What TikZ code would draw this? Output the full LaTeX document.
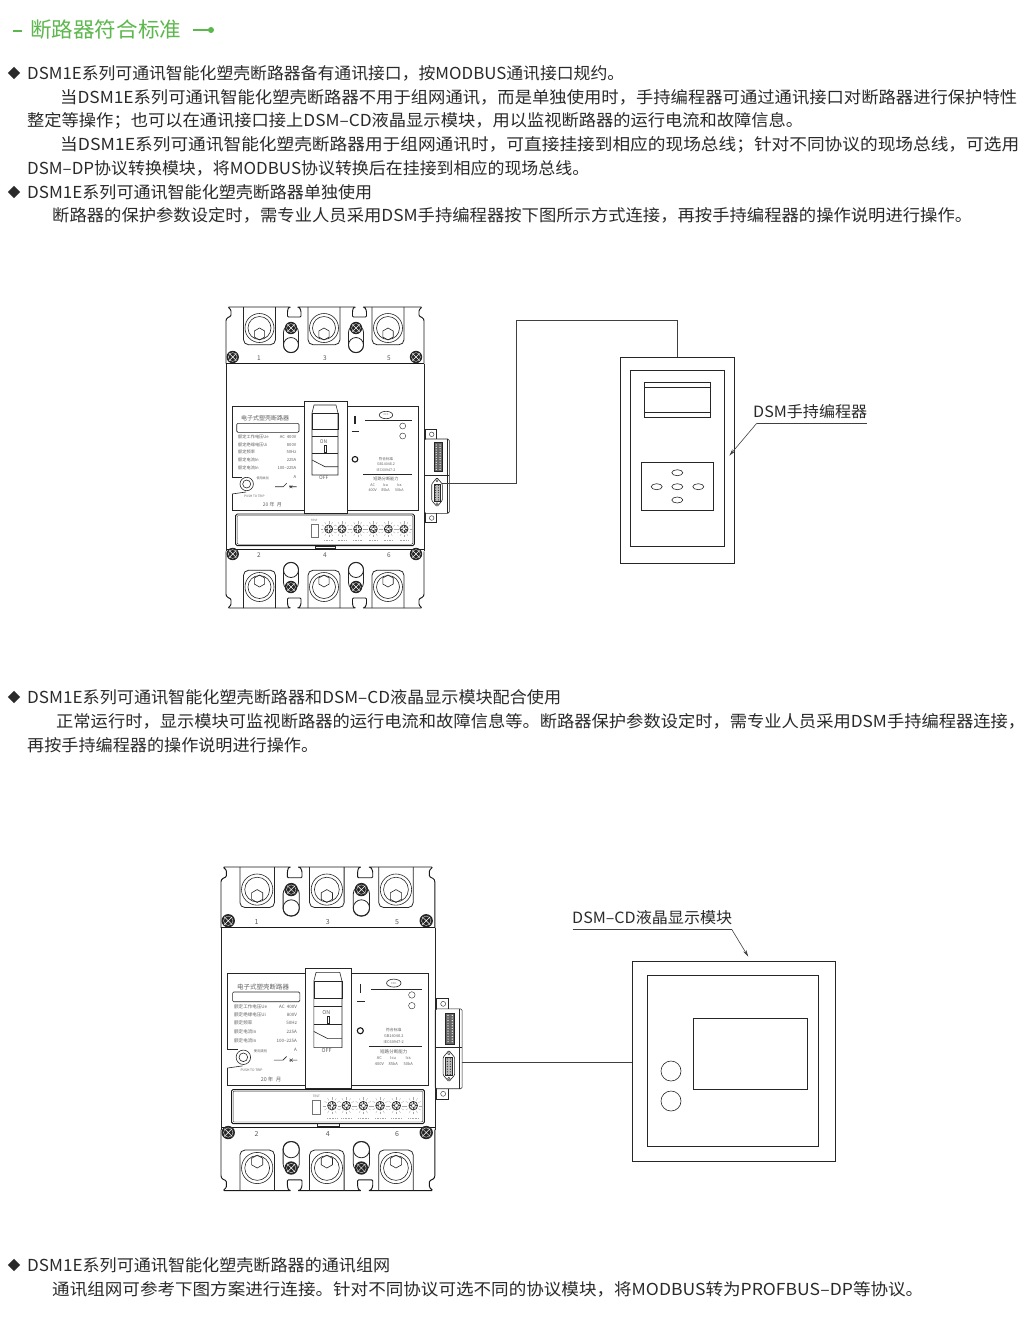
\documentclass[tikz,border=0pt]{standalone}
\usepackage{fontspec}
\usepackage{graphicx}
\usetikzlibrary{arrows.meta,shapes.geometric}
\newfontfamily\cnfont{Noto Sans CJK SC}
\definecolor{headgreen}{HTML}{5CB84C}
\definecolor{inkgray}{HTML}{2A2A2A}

\tikzset{
	bodytext/.style={anchor=base west, yshift=-6.8pt, inner sep=0, text=inkgray, font=\cnfont\fontsize{16.5}{18}\selectfont},
	headtext/.style={anchor=base west, yshift=-7.4pt, inner sep=0, text=headgreen, font=\cnfont\fontsize{21}{23}\selectfont},
	bullet/.style={diamond, fill=inkgray, minimum size=12.5, inner sep=0},
	part/.style={draw=black!85, line width=0.6},
	outline/.style={draw=black!90, line width=0.95},
	wire/.style={draw=black!75, line width=0.6},
	brktext/.style={inner sep=0, text=black!62, font=\cnfont\fontsize{4.2}{5}\selectfont},
	smalltext/.style={inner sep=0, text=black!62, font=\cnfont\fontsize{3.1}{4}\selectfont},
	numtext/.style={inner sep=0, text=black!65, font=\cnfont\fontsize{6.5}{8}\selectfont},
}

% fit a text line to a given width
\newcommand{\fitw}[2]{\resizebox{#1pt}{\height}{#2}}

% dark screw with a white cross
\newcommand{\crossscrew}[2]{
	\fill[black!85] (#1,#2) circle (6.2);
	\draw[white, line width=0.45] (#1-3.6,#2-3.6)--(#1+3.6,#2+3.6) (#1-3.6,#2+3.6)--(#1+3.6,#2-3.6);
	\draw[white, line width=0.3] (#1,#2) circle (4.4);
}

% one terminal row, top side; bottom side comes from a mirrored scope
\newcommand{\termblock}{
	\draw[outline, rounded corners=1] (0,56.7)--(0,13)--(1,11)--(5,9)--(5,3)--(2,0)--(65,0)--(62.5,0.5)--(61.5,4)--(61.5,10)--(75,10)--(75,4)--(73.5,0.5)--(71,0)--(130,0)--(127.5,0.5)--(126.5,4)--(126.5,10)--(140.5,10)--(140.5,4)--(139,0.5)--(136.5,0)--(196,0)--(193,3)--(193,9)--(197,11)--(198,13)--(198,56.7);
	\foreach \c in {33.5,98,162}{
		\draw[part, line width=0.8, rounded corners=5] (\c-16,0)--(\c-16,37.7)--(\c+16,37.7)--(\c+16,0);
		\draw[part] (\c,21) circle (14.5);
		\draw[part] (\c,21) circle (11.5);
		\draw[part] (\c,21) ++(30:6)--++(90:6)--++(150:6)--++(210:6)--++(270:6)--++(330:6)--cycle;
	}
	\foreach \c in {65,130}{
		\draw[part, line width=0.8, rounded corners=7.4] (\c-7.5,18) rectangle (\c+7.5,45.7);
		\draw[part, line width=0.8] (\c,38) circle (7.5);
		\crossscrew{\c}{21}
	}
}

\newcommand{\brkbody}[1]{
	\termblock
	\begin{scope}[shift={(0,301)},yscale=-1]
		\termblock
	\end{scope}
	\draw[outline] (0,56.7)--(198,56.7);
	\draw[outline] (0,242)--(198,242);
	\draw[part] (0,56.7)--(0,244.3);
	\draw[part] (198,56.7)--(198,244.3);
	% corner screws and numbers
	\crossscrew{6.7}{50}
	\crossscrew{190}{50}
	\crossscrew{6.7}{247}
	\crossscrew{190}{247}
	\foreach \c/\t/\b in {33/1/2,99/3/4,163/5/6}{
		\node[numtext] (#1num\t) at (\c,50.8) {\t};
		\node[numtext] (#1num\b) at (\c,248.5) {\b};
	}
	% label panel
	\draw[part] (78,99)--(6,99)--(6,170)--(16,170);
	\draw[part] (6,187)--(20,185);
	\draw[part] (6,187)--(6,203)--(78,203);
	\draw[part] (121,99)--(192,99)--(192,203)--(121,203);
	\draw[part, fill=white] (20.7,177) circle (6.7);
	\draw[part] (20.7,177) circle (4);
	\node[brktext, font=\cnfont\fontsize{6}{7}\selectfont] (#1title) at (39,111.3) {电子式塑壳断路器};
	\draw[part, rounded corners=1.2] (10.7,116.3) rectangle (73,125.3);
	\foreach \n/\y/\a/\b in {1/129.7/额定工作电压Ue/AC\ \ 400V,2/137.7/额定绝缘电压Ui/800V,3/145.3/额定频率/50Hz,4/153.3/额定电流In/225A,5/161.3/额定电流In/100–225A}{
		\node[brktext, anchor=west] (#1rowa\n) at (12,\y) {\a};
		\node[brktext, anchor=east] (#1rowb\n) at (70.5,\y) {\b};
	}
	\node[brktext, anchor=east] (#1unit) at (70.5,169.7) {A};
	\node[smalltext] (#1usecat) at (36.7,171) {使用类别};
	\node[smalltext] (#1push) at (28.3,189) {PUSH TO TRIP};
	\node[brktext, font=\cnfont\fontsize{5}{6}\selectfont] (#1date) at (46.3,197.3) {20\ 年\ \ 月};
	\draw[part] (49,179.7)--(57.3,179.7)--(60.7,176.3) (63,179.7)--(70.7,179.7);
	\draw[part, line width=0.4] (63.7,178.2)--(66.3,181.2) (63.7,181.2)--(66.3,178.2);
	% handle
	\draw[part, fill=white] (78,94) rectangle (121,206);
	\draw[part] (88,98)--(110,98)--(112,106)--(112,168)--(86,168)--(86,106)--cycle;
	\draw[part] (86,106) rectangle (112,122);
	\draw[part] (86,129.5)--(112,129.5);
	\draw[part] (86,146)--(112,146);
	\draw[part] (86,153)--(99,159.7)--(112,159.7);
	\node[brktext, font=\cnfont\fontsize{5}{6}\selectfont] (#1on) at (97.5,135) {ON};
	\draw[part] (98,138.5) rectangle (100.5,145.5);
	\node[brktext, font=\cnfont\fontsize{5}{6}\selectfont] (#1off) at (97.7,170.5) {OFF};
	% right part of the panel
	\draw[black!85, line width=1.1] (129,108.7)--(129,117.3);
	\draw[black!85, line width=1.1] (125.7,124.7)--(133,124.7);
	\draw[part] (139,113.7)--(185.7,113.7);
	\draw[part] (160,108) ellipse (6.7 and 3.7);
	\node[smalltext, font=\cnfont\fontsize{2.6}{3}\selectfont] (#1ccc) at (160,108) {CCC};
	\draw[part, line width=0.4] (176.7,119) circle (3);
	\draw[part, line width=0.4] (176.7,129) circle (3);
	\draw[black!90, line width=1.1] (129,152.3) circle (2.8);
	\node[smalltext, font=\cnfont\fontsize{3.6}{4}\selectfont] (#1std) at (160,152) {符合标准};
	\node[smalltext, font=\cnfont\fontsize{3.6}{4}\selectfont] (#1gb) at (160,157) {GB14048.2};
	\node[smalltext, font=\cnfont\fontsize{3.6}{4}\selectfont] (#1iec) at (160,163) {IEC60947-2};
	\draw[part, line width=0.45] (137.3,167)--(185.7,167);
	\node[brktext] (#1cap) at (160,172) {短路分断能力};
	\foreach \n/\c/\a/\b in {1/146.7/AC/400V,2/159.5/Icu/85kA,3/173.3/Ics/50kA}{
		\node[brktext, font=\cnfont\fontsize{3.7}{4}\selectfont] (#1cola\n) at (\c,178) {\a};
		\node[brktext, font=\cnfont\fontsize{3.7}{4}\selectfont] (#1colb\n) at (\c,183.5) {\b};
	}
	% trip unit strip
	\draw[outline, rounded corners=1.5] (9.7,207) rectangle (188.3,238.7);
	\draw[part, line width=0.4, rounded corners=1] (11.2,208.5) rectangle (186.8,237.2);
	\draw[part, line width=0.4] (89,238.7) rectangle (109,241.3);
	\node[smalltext, font=\cnfont\fontsize{2.8}{3}\selectfont] (#1test) at (88.3,213) {TEST};
	\draw[draw=black!55, line width=0.4] (84.7,217.3) rectangle (92.3,230.3);
	\foreach \c in {102.7,116,131.7,147.3,162.3,178}{
		\draw[part, line width=0.7] (\c,222) circle (4);
		\foreach \a in {0,30,...,330}{
			\draw[black!75, line width=0.35] (\c,222) ++(\a:1.2)--++(\a:2.6);
			\draw[black!35, line width=0.3] (\c,222) ++(\a:5.5)--++(\a:2.5);
		}
		\draw[black!35, line width=0.7, dash pattern=on 1 off 0.6] (\c-4.5,233.5)--(\c+4.5,233.5);
	}
	% side module
	\draw[part] (199,132)--(199,122.3)--(210.7,122.3)--(210.7,132);
	\draw[part, line width=0.4] (205.7,127.3) circle (2.3);
	\draw[part, rounded corners=1.5] (198.3,132)--(223.3,132)--(223.3,206.3)--(198.3,206.3)--cycle;
	\draw[part, line width=0.4] (220.7,132)--(220.7,206.3);
	\draw[part] (199,206.3)--(199,215.7)--(210.7,215.7)--(210.7,206.3);
	\draw[part, line width=0.4] (205.7,211) circle (2.3);
	\draw[part, fill=black!60] (208,135.7) rectangle (216.3,164.7);
	\foreach \i in {0,...,10}{
		\fill[white] (210.2,138+\i*2.45) circle (0.65);
		\fill[white] (214.1,138+\i*2.45) circle (0.65);
	}
	\draw[part] (198.3,168)--(223.3,168);
	\draw[part, rounded corners=1, fill=white] (211,170.7)--(216.3,177)--(216.3,193.5)--(211,199.7)--(205.7,193.5)--(205.7,177)--cycle;
	\draw[part, line width=0.4, fill=black!25] (208,177) rectangle (214,194);
	\foreach \i in {0,...,6}{
		\fill[black!80] (209.6,178.5+\i*2.4) circle (0.6);
		\fill[black!80] (212.4,178.5+\i*2.4) circle (0.6);
	}
	\draw[part, line width=0.4] (211,173.7) circle (1.1);
	\draw[part, line width=0.4] (211,196.8) circle (1.1);
}

\begin{document}
\begin{tikzpicture}[x=1pt, y=-1pt]

\useasboundingbox[fill=white] (0,0) rectangle (1036,1326);

% heading
\draw[headgreen, line width=1.2] (13,31)--(22,31);
\node[headtext] (head) at (30,30) {\fitw{151}{断路器符合标准}};
\draw[headgreen, line width=1.2] (193,30)--(211,30);
\fill[headgreen] (211,30) circle (3);

% text lines
\foreach \y in {73,192,697,1265}{
	\node[bullet] (bullet\y) at (14,\y) {};
}
\node[bodytext] (lineA) at (27,73) {\fitw{597}{DSM1E系列可通讯智能化塑壳断路器备有通讯接口，按MODBUS通讯接口规约。}};
\node[bodytext] (lineB) at (60,97) {\fitw{957}{当DSM1E系列可通讯智能化塑壳断路器不用于组网通讯，而是单独使用时，手持编程器可通过通讯接口对断路器进行保护特性}};
\node[bodytext] (lineC) at (27,120) {\fitw{776}{整定等操作；也可以在通讯接口接上DSM–CD液晶显示模块，用以监视断路器的运行电流和故障信息。}};
\node[bodytext] (lineD) at (60,144) {\fitw{959}{当DSM1E系列可通讯智能化塑壳断路器用于组网通讯时，可直接挂接到相应的现场总线；针对不同协议的现场总线，可选用}};
\node[bodytext] (lineE) at (27,168) {\fitw{562}{DSM–DP协议转换模块，将MODBUS协议转换后在挂接到相应的现场总线。}};
\node[bodytext] (lineF) at (27,192) {\fitw{345}{DSM1E系列可通讯智能化塑壳断路器单独使用}};
\node[bodytext] (lineG) at (52,215) {\fitw{920}{断路器的保护参数设定时，需专业人员采用DSM手持编程器按下图所示方式连接，再按手持编程器的操作说明进行操作。}};
\node[bodytext] (lineH) at (27,697) {\fitw{534}{DSM1E系列可通讯智能化塑壳断路器和DSM–CD液晶显示模块配合使用}};
\node[bodytext] (lineI) at (56,721) {\fitw{969}{正常运行时，显示模块可监视断路器的运行电流和故障信息等。断路器保护参数设定时，需专业人员采用DSM手持编程器连接，}};
\node[bodytext] (lineJ) at (27,745) {\fitw{291}{再按手持编程器的操作说明进行操作。}};
\node[bodytext] (lineK) at (27,1265) {\fitw{363}{DSM1E系列可通讯智能化塑壳断路器的通讯组网}};
\node[bodytext] (lineL) at (52,1289) {\fitw{871}{通讯组网可参考下图方案进行连接。针对不同协议可选不同的协议模块，将MODBUS转为PROFBUS–DP等协议。}};

% first breaker with programmer
\begin{scope}[shift={(226,307)}, transform shape]
	\brkbody{a}
	\coordinate (portA) at (216,176.3);
\end{scope}

\node[part, draw, minimum width=114.3, minimum height=206.3, inner sep=0, anchor=north west] (prog) at (620,356.7) {};
\draw[part] (630.7,370.7) rectangle (724.3,546.7);
\draw[part] (644.7,382.3) rectangle (710.3,417.3);
\draw[part] (644.7,387.7)--(710.3,387.7);
\draw[part] (644.7,412.3)--(710.3,412.3);
\draw[part] (641.3,462) rectangle (713.7,510.3);
\foreach \x/\y in {677.3/472.7,677.3/486.7,677.3/500,656.7/486.7,698.3/486.7}{
	\draw[part] (\x,\y) ellipse (5.5 and 3);
}

\coordinate (bendA) at (516,320);
\draw[wire] (portA) -| (bendA) -| (prog.north);

\node[bodytext, font=\cnfont\fontsize{15.5}{17}\selectfont] (progLabel) at (753,411) {\fitw{114}{DSM手持编程器}};
\coordinate (progUnder) at (866.7,423.3);
\coordinate (progLead) at (756.7,423.3);
\coordinate (progTip) at (729.3,455.7);
\draw[wire] (progUnder)--(progLead);
\draw[wire, -{Stealth[length=7,width=3.5]}] (progLead)--(progTip);

% second breaker with display module
\begin{scope}[shift={(221,867)}, xscale=1.08, yscale=1.075, transform shape]
	\brkbody{b}
	\coordinate (portB) at (223.3,181.4);
\end{scope}

\node[part, draw, minimum width=203, minimum height=200, inner sep=0, anchor=north west] (disp) at (632,961) {};
\draw[part] (647,975) rectangle (818,1146);
\draw[part] (693,1018) rectangle (807,1089);
\draw[part] (671,1071) circle (10);
\draw[part] (671,1101) circle (10);

\draw[wire] (portB)--(portB -| disp.west);

\node[bodytext, font=\cnfont\fontsize{15.5}{17}\selectfont] (dispLabel) at (572,917) {\fitw{160}{DSM–CD液晶显示模块}};
\coordinate (dispUnder) at (572.7,929.3);
\coordinate (dispLead) at (731.7,929.3);
\coordinate (dispTip) at (748.3,956.7);
\draw[wire] (dispUnder)--(dispLead);
\draw[wire, -{Stealth[length=7,width=3.5]}] (dispLead)--(dispTip);

\end{tikzpicture}
\end{document}
